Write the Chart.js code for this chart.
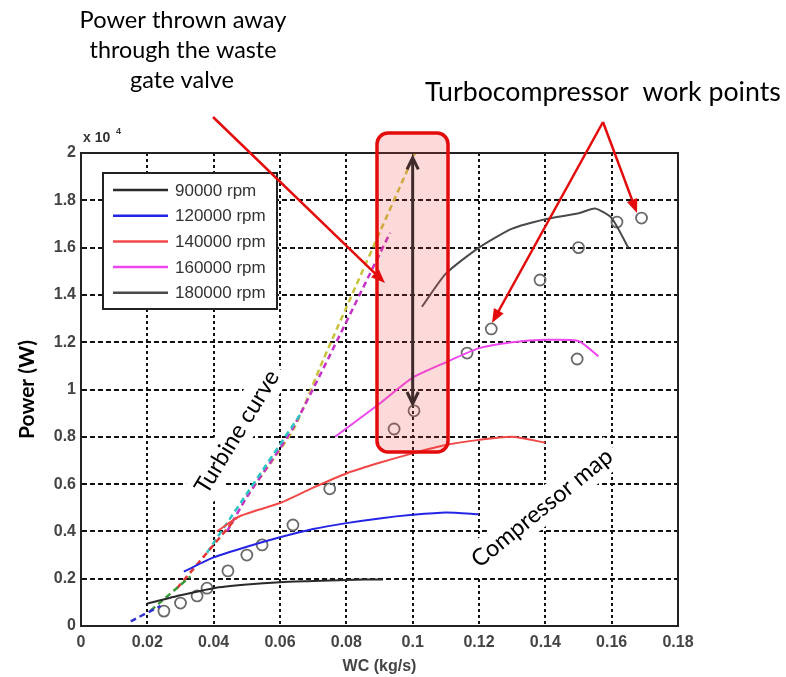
<!DOCTYPE html>
<html>
<head>
<meta charset="utf-8">
<script src="https://cdn.jsdelivr.net/npm/chart.js@4.4.1/dist/chart.umd.min.js"></script>
<style>
  html, body { margin: 0; padding: 0; background: #fff; }
  #wrap { position: relative; width: 786px; height: 677px; }
</style>
</head>
<body>
<div id="wrap"><canvas id="chart"></canvas></div>
<script>
// power is in x10^4 W, mass flow WC in kg/s

const rpmLabels = ['90000 rpm', '120000 rpm', '140000 rpm', '160000 rpm', '180000 rpm'];
const rpmColors = ['#2a2a2a', '#2424e6', '#f24848', '#ee46ee', '#4a4a4a'];

// compressor map, one curve per speed
const wc90  = [0.020, 0.030, 0.040, 0.050, 0.060, 0.070, 0.080, 0.091];
const pw90  = [0.095, 0.130, 0.160, 0.175, 0.185, 0.190, 0.195, 0.197];
const wc120 = [0.031, 0.040, 0.050, 0.060, 0.070, 0.080, 0.090, 0.100, 0.110, 0.120];
const pw120 = [0.230, 0.290, 0.335, 0.375, 0.410, 0.435, 0.455, 0.470, 0.480, 0.473];
const wc140 = [0.041, 0.048, 0.060, 0.070, 0.080, 0.090, 0.100, 0.110, 0.120, 0.130, 0.140];
const pw140 = [0.400, 0.465, 0.520, 0.585, 0.645, 0.690, 0.730, 0.765, 0.787, 0.800, 0.775];
const wc160 = [0.0766, 0.090, 0.100, 0.110, 0.120, 0.130, 0.140, 0.150, 0.156];
const pw160 = [0.800, 0.940, 1.050, 1.115, 1.175, 1.200, 1.210, 1.205, 1.140];
const wc180 = [0.1028, 0.110, 0.120, 0.130, 0.140, 0.150, 0.155, 0.160, 0.165];
const pw180 = [1.350, 1.490, 1.600, 1.680, 1.720, 1.745, 1.765, 1.725, 1.600];

// turbine curves (dashed)
const turbColors = ['#3232d2', '#3a9a3a', '#e23232', '#2ec4c4', '#c632c6', '#c8c23c'];
const turbWc = [
  [0.015, 0.024],
  [0.021, 0.033],
  [0.029, 0.047],
  [0.038, 0.0666],
  [0.044, 0.050, 0.064, 0.0932],
  [0.050, 0.064, 0.073, 0.1007]
];
const turbPw = [
  [0.020, 0.085],
  [0.065, 0.210],
  [0.160, 0.460],
  [0.310, 0.905],
  [0.400, 0.545, 0.840, 1.663],
  [0.550, 0.830, 1.125, 2.000]
];

// turbocompressor work points
const workWc = [0.025, 0.030, 0.035, 0.038, 0.0443, 0.050, 0.0546, 0.0639, 0.075, 0.0944,
                0.1004, 0.1164, 0.1237, 0.1384, 0.150, 0.1496, 0.1616, 0.169, 0.0983, 0.132];
const workPw = [0.063, 0.097, 0.127, 0.160, 0.233, 0.300, 0.343, 0.427, 0.580, 0.833,
                0.910, 1.154, 1.256, 1.463, 1.600, 1.129, 1.708, 1.725, 2.120, 2.120];

const xTicks = [0, 0.02, 0.04, 0.06, 0.08, 0.1, 0.12, 0.14, 0.16, 0.18];
const yTicks = [0, 0.2, 0.4, 0.6, 0.8, 1, 1.2, 1.4, 1.6, 1.8, 2];

const toPts = (xs, ys) => xs.map((x, i) => ({ x, y: ys[i] }));

const compWc = [wc90, wc120, wc140, wc160, wc180];
const compPw = [pw90, pw120, pw140, pw160, pw180];

const datasets = [];
compWc.forEach((xs, i) => {
  datasets.push({
    label: rpmLabels[i],
    data: toPts(xs, compPw[i]),
    showLine: true,
    borderColor: rpmColors[i],
    borderWidth: 2,
    pointRadius: 0,
    tension: 0.2
  });
});
turbWc.forEach((xs, i) => {
  datasets.push({
    label: 'turbine ' + (i + 1),
    data: toPts(xs, turbPw[i]),
    showLine: true,
    borderColor: turbColors[i],
    borderWidth: 2.5,
    borderDash: [6, 4],
    pointRadius: 0,
    tension: 0.2
  });
});
datasets.push({
  label: 'work points',
  data: toPts(workWc, workPw),
  showLine: false,
  pointStyle: 'circle',
  pointRadius: 5.5,
  pointBorderWidth: 1.8,
  pointBorderColor: '#6a6a6a',
  pointBackgroundColor: 'rgba(0,0,0,0)',
  clip: false
});

// ---------- drawing helpers ----------
function fitFont(ctx, text, width, weight, family) {
  ctx.font = `${weight} 20px ${family}`;
  const w = ctx.measureText(text).width;
  return 20 * width / w;
}

function arrowHead(ctx, x1, y1, x2, y2, len, spread, filled) {
  const a = Math.atan2(y2 - y1, x2 - x1);
  const p1 = [x2 - len * Math.cos(a - spread), y2 - len * Math.sin(a - spread)];
  const p2 = [x2 - len * Math.cos(a + spread), y2 - len * Math.sin(a + spread)];
  ctx.beginPath();
  if (filled) {
    ctx.moveTo(x2, y2); ctx.lineTo(p1[0], p1[1]); ctx.lineTo(p2[0], p2[1]); ctx.closePath();
    ctx.fill();
  } else {
    ctx.moveTo(p1[0], p1[1]); ctx.lineTo(x2, y2); ctx.lineTo(p2[0], p2[1]);
    ctx.stroke();
  }
}

function redArrow(ctx, x1, y1, x2, y2) {
  ctx.strokeStyle = '#e30b0b';
  ctx.fillStyle = '#e30b0b';
  ctx.lineWidth = 2.5;
  ctx.setLineDash([]);
  const a = Math.atan2(y2 - y1, x2 - x1);
  ctx.beginPath();
  ctx.moveTo(x1, y1);
  ctx.lineTo(x2 - 10 * Math.cos(a), y2 - 10 * Math.sin(a));
  ctx.stroke();
  arrowHead(ctx, x1, y1, x2, y2, 15, 0.38, true);
}

function rotatedLabel(ctx, text, cx, cy, len, angle) {
  const size = fitFont(ctx, text, len, '400', 'Lato');
  ctx.save();
  ctx.translate(cx, cy);
  ctx.rotate(angle * Math.PI / 180);
  ctx.fillStyle = '#fff';
  ctx.fillRect(-len / 2 - 6, -size * 0.7, len + 12, size * 1.4);
  ctx.font = `400 ${size}px Lato`;
  ctx.fillStyle = '#000';
  ctx.textAlign = 'center';
  ctx.textBaseline = 'middle';
  ctx.fillText(text, 0, 0);
  ctx.restore();
}

function centeredText(ctx, text, cx, cy, width) {
  const size = fitFont(ctx, text, width, '400', 'Lato');
  ctx.font = `400 ${size}px Lato`;
  ctx.fillStyle = '#000';
  ctx.textAlign = 'center';
  ctx.textBaseline = 'middle';
  ctx.fillText(text, cx, cy);
}

const overlay = {
  id: 'overlay',
  afterDatasetsDraw(chart) {
    const ctx = chart.ctx;
    const { left, right, top, bottom } = chart.chartArea;
    const xs = chart.scales.x, ys = chart.scales.y;
    ctx.save();
    ctx.setLineDash([]);

    // full axes box
    ctx.strokeStyle = '#222';
    ctx.lineWidth = 2;
    ctx.strokeRect(left, top, right - left, bottom - top);

    // white band cut above the axes
    ctx.fillStyle = '#fff';
    ctx.fillRect(0, 0, chart.width, 124);

    // exponent label
    ctx.fillStyle = '#333';
    ctx.font = 'bold 14px "Liberation Sans"';
    ctx.textAlign = 'left';
    ctx.textBaseline = 'alphabetic';
    ctx.fillText('x 10', left + 2, top - 11);
    ctx.font = 'bold 9px "Liberation Sans"';
    ctx.fillText('4', left + 35, top - 19);

    // legend
    const lx = 103, ly = 173, lw = 174, lh = 136;
    ctx.fillStyle = '#fff';
    ctx.fillRect(lx, ly, lw, lh);
    ctx.strokeStyle = '#222';
    ctx.lineWidth = 2;
    ctx.strokeRect(lx, ly, lw, lh);
    ctx.font = '17px "Liberation Sans"';
    ctx.textBaseline = 'middle';
    rpmLabels.forEach((lab, i) => {
      const yy = ly + 17 + i * 25.7;
      ctx.strokeStyle = chart.data.datasets[i].borderColor;
      ctx.lineWidth = 2.5;
      ctx.beginPath();
      ctx.moveTo(lx + 10, yy);
      ctx.lineTo(lx + 65, yy);
      ctx.stroke();
      ctx.fillStyle = '#333';
      ctx.fillText(lab, lx + 72, yy + 1);
    });

    // waste gate box
    const bx = 377, by = 133, bw = 71, bh = 319;
    ctx.beginPath();
    ctx.roundRect(bx, by, bw, bh, 11);
    ctx.fillStyle = 'rgba(238, 70, 70, 0.2)';
    ctx.fill();
    ctx.strokeStyle = '#e30b0b';
    ctx.lineWidth = 3.5;
    ctx.stroke();

    // double arrow at WC = 0.1
    const ax = xs.getPixelForValue(0.1);
    const ay1 = ys.getPixelForValue(1.98), ay2 = ys.getPixelForValue(0.94);
    ctx.strokeStyle = '#3f2b2b';
    ctx.lineWidth = 3;
    ctx.beginPath();
    ctx.moveTo(ax, ay1 + 2);
    ctx.lineTo(ax, ay2 - 2);
    ctx.stroke();
    arrowHead(ctx, ax, ay2, ax, ay1, 13, 0.45, false);
    arrowHead(ctx, ax, ay1, ax, ay2, 13, 0.45, false);

    // rotated labels
    rotatedLabel(ctx, 'Turbine curve', 237, 432, 140, -58.5);
    rotatedLabel(ctx, 'Compressor map', 542, 508, 174, -39);

    // annotations
    centeredText(ctx, 'Power thrown away', 183, 20, 207);
    centeredText(ctx, 'through the waste', 183, 50, 187);
    centeredText(ctx, 'gate valve', 182, 80, 104);
    centeredText(ctx, 'Turbocompressor  work points', 603, 92, 356);

    redArrow(ctx, 213, 117, 385, 283);
    redArrow(ctx, 603, 122, 492, 323);
    redArrow(ctx, 603, 122, 637, 213);

    ctx.restore();
  }
};

const tickFont = { family: '"Liberation Sans", Arial, sans-serif', size: 16, weight: 'bold' };

new Chart(document.getElementById('chart'), {
  type: 'scatter',
  data: { datasets },
  options: {
    responsive: true,
    maintainAspectRatio: false,
    animation: false,
    layout: { padding: { top: 153, right: 108, left: 0, bottom: 0 } },
    plugins: {
      legend: { display: false },
      tooltip: { enabled: false }
    },
    scales: {
      x: {
        type: 'linear',
        min: 0,
        max: 0.18,
        afterFit(scale) { scale.height = 51; },
        afterBuildTicks(scale) { scale.ticks = xTicks.map(v => ({ value: v })); },
        ticks: {
          color: '#444',
          font: tickFont,
          padding: 7,
          maxRotation: 0,
          callback: v => String(+v.toFixed(2))
        },
        grid: { color: '#111', lineWidth: 2, drawTicks: false },
        border: { display: true, color: '#222', width: 2, dash: [3, 3] },
        title: {
          display: true,
          text: 'WC (kg/s)',
          color: '#444',
          font: { family: '"Liberation Sans", Arial, sans-serif', size: 16, weight: 'bold' },
          padding: { top: 0, bottom: 1 }
        }
      },
      y: {
        type: 'linear',
        min: 0,
        max: 2,
        afterFit(scale) { scale.width = 81; },
        afterBuildTicks(scale) { scale.ticks = yTicks.map(v => ({ value: v })); },
        ticks: {
          color: '#444',
          font: tickFont,
          padding: 5,
          callback: v => String(+v.toFixed(1))
        },
        grid: { color: '#111', lineWidth: 2, drawTicks: false },
        border: { display: true, color: '#222', width: 2, dash: [5, 3] },
        title: {
          display: true,
          text: 'Power (W)',
          color: '#000',
          font: { family: 'Lato, "Open Sans", sans-serif', size: 21, weight: 'bold' },
          padding: { top: 15, bottom: 0 }
        }
      }
    }
  },
  plugins: [overlay]
});
</script>
</body>
</html>
